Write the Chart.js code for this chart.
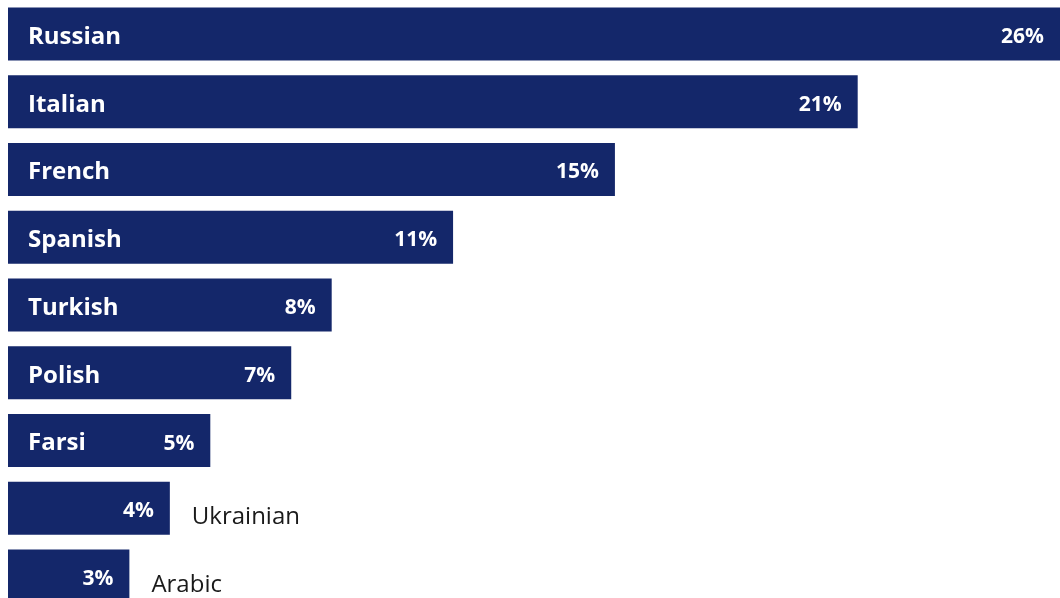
<!DOCTYPE html>
<html>
<head>
 <meta charset="utf-8">
 <title>Languages</title>
 <script src="https://cdn.jsdelivr.net/npm/chart.js@4/dist/chart.umd.min.js"></script>
 <style>
	html, body { margin: 0; padding: 0; background: #ffffff; overflow: hidden; }
	.wrap { position: relative; width: 1060px; height: 610px; }
 </style>
</head>
<body>

 <div class="wrap"><canvas id="langChart"></canvas></div>

<script>
 // share of respondents per language, in percent
 var languages = ["Russian", "Italian", "French", "Spanish", "Turkish", "Polish", "Farsi", "Ukrainian", "Arabic"];
 var shares = [26, 21, 15, 11, 8, 7, 5, 4, 3];

 var navy = "#14276a";

 // writes the language name inside the bar when it fits, otherwise after it,
 // and the percentage at the inner end of every bar
 var barText = {
  id: "barText",
  afterDatasetsDraw: function(chart)
  {
   var ctx = chart.ctx;
   var bars = chart.getDatasetMeta(0).data;
   ctx.save();
   ctx.textBaseline = "middle";
   for (var i = 0; i < bars.length; i++)
   {
    var bar = bars[i];
    var width = bar.x - bar.base;
    var pct = shares[i] + "%";

    ctx.font = "bold 21px 'Open Sans'";
    var pctWidth = ctx.measureText(pct).width;
    ctx.fillStyle = "#ffffff";
    ctx.textAlign = "right";
    ctx.fillText(pct, bar.x - 16, bar.y + 3);

    ctx.font = "bold 24px 'Open Sans'";
    var nameWidth = ctx.measureText(languages[i]).width;
    ctx.textAlign = "left";
    if (nameWidth + pctWidth + 46 <= width)
    {
     ctx.fillStyle = "#ffffff";
     ctx.fillText(languages[i], bar.base + 20, bar.y + 3);
    }
    else
    {
     ctx.font = "24px 'Open Sans'";
     ctx.fillStyle = "#1a1a1a";
     ctx.fillText(languages[i], bar.x + 22, bar.y + 9);
    }
   }
   ctx.restore();
  }
 };

 var ctx = document.getElementById("langChart");
 var langChart = new Chart(ctx, {
  type: "bar",
  data: {
   labels: languages,
   datasets: [{ data: shares, backgroundColor: navy, borderWidth: 0,
                categoryPercentage: 1, barPercentage: 0.782 }]
  },
  options: {
   indexAxis: "y",
   responsive: true,
   maintainAspectRatio: false,
   animation: false,
   layout: { padding: { left: 8, right: 0, top: 0, bottom: 0 } },
   scales: {
    x: { display: false, min: 0, max: 26 },
    y: { display: false }
   },
   plugins: { legend: { display: false }, tooltip: { enabled: false } }
  },
  plugins: [barText]
 });
</script>

</body>
</html>
